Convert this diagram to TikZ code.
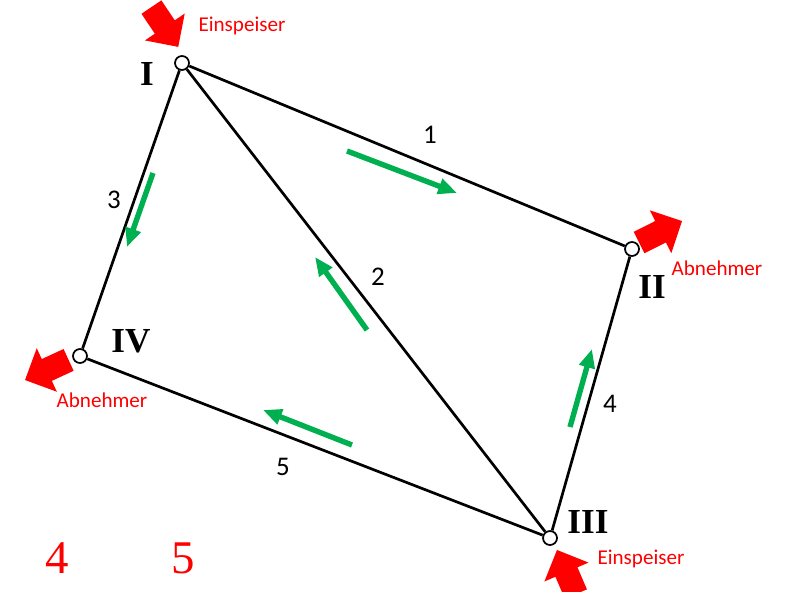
\documentclass[tikz,border=0pt]{standalone}
\usepackage{fontspec}
\usetikzlibrary{arrows.meta}
\newfontfamily\calfont{Carlito}
\newfontfamily\romfont{Liberation Serif}
\definecolor{flowgreen}{HTML}{00B050}
\definecolor{feedred}{HTML}{FF0000}
\tikzset{
    bus/.style={circle, draw, line width=1.5pt, fill=white, minimum size=0.42cm, inner sep=0pt},
    line/.style={line width=2.3pt, black},
    flow/.style={line width=4.6pt, flowgreen, -{Triangle[length=16pt,width=13pt]}},
    busname/.style={font=\romfont\bfseries\fontsize{30}{30}\selectfont},
    linename/.style={font=\calfont\fontsize{23}{23}\selectfont},
    redtext/.style={font=\calfont\fontsize{18}{18}\selectfont, text=feedred},
    bignum/.style={font=\romfont\fontsize{40}{40}\selectfont, text=feedred},
    blockarrow/.pic={
        \fill[feedred] (0,-12) -- (24,-12) -- (24,-24) -- (48,0) -- (24,24) -- (24,12) -- (0,12) -- cycle;
    }
}
\begin{document}
\begin{tikzpicture}[x=0.03cm,y=-0.03cm]

            \useasboundingbox (0,0) rectangle (785,592);

            %---------------- KNOTEN ----------------
            \node[bus] (I)   at (182,63)  {};
            \node[bus] (II)  at (632,249) {};
            \node[bus] (III) at (550,538) {};
            \node[bus] (IV)  at (80,356)  {};

            %---------------- LEITUNGEN ----------------
            \draw[line] (I) -- (II);
            \draw[line] (I) -- (III);
            \draw[line] (I) -- (IV);
            \draw[line] (II) -- (III);
            \draw[line] (IV) -- (III);

            %---------------- BEZEICHNUNGEN ----------------
            \node[busname] (nI)   at (147,74)  {I};
            \node[busname] (nII)  at (652,287) {II};
            \node[busname] (nIII) at (588,522) {III};
            \node[busname] (nIV)  at (131,341) {IV};

            \node[linename] (l1) at (430,135) {1};
            \node[linename] (l2) at (378,277) {2};
            \node[linename] (l3) at (114,200) {3};
            \node[linename] (l4) at (610,404) {4};
            \node[linename] (l5) at (283,467) {5};

            %---------------- LEISTUNGSFLUSS ----------------
            \coordinate (f1a) at (347,151); \coordinate (f1b) at (457,193);
            \coordinate (f2a) at (367,330); \coordinate (f2b) at (315,257);
            \coordinate (f3a) at (153,173); \coordinate (f3b) at (127,247);
            \coordinate (f4a) at (570,427); \coordinate (f4b) at (592,349);
            \coordinate (f5a) at (352,445); \coordinate (f5b) at (263,410);

            \draw[flow] (f1a) -- (f1b);
            \draw[flow] (f2a) -- (f2b);
            \draw[flow] (f3a) -- (f3b);
            \draw[flow] (f4a) -- (f4b);
            \draw[flow] (f5a) -- (f5b);

            %---------------- EINSPEISUNG / ABNAHME ----------------
            \pic[rotate=-56]   at (151.4,7.1)   {blockarrow};
            \pic[rotate=26.6]  at (639.1,242.5) {blockarrow};
            \pic[rotate=204.8] at (68.6,359.9)  {blockarrow};
            \pic[rotate=113.2] at (575.9,594.1) {blockarrow};

            \node[redtext] (tI)   at (242,26)  {Einspeiser};
            \node[redtext] (tII)  at (717,268) {Abnehmer};
            \node[redtext] (tIV)  at (102,400) {Abnehmer};
            \node[redtext] (tIII) at (641,559) {Einspeiser};

            \node[bignum] (r4) at (57,558)  {4};
            \node[bignum] (r5) at (183,558) {5};

        \end{tikzpicture}
\end{document}
